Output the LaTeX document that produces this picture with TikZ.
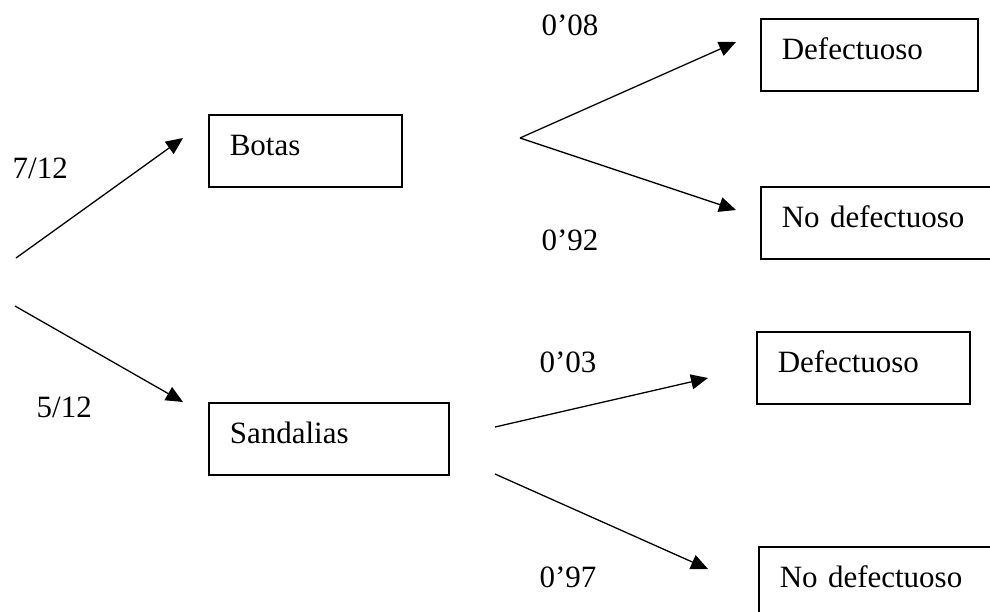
\documentclass[tikz,border=0pt]{standalone}
\usepackage{fontspec}
\setmainfont{Liberation Serif}
\usetikzlibrary{arrows.meta}
\tikzset{
  caja/.style={draw,thick,rectangle,anchor=north west,inner xsep=10.5pt,inner ysep=0pt,
    text height=20.5pt,text depth=15.5pt,align=left},
  prob/.style={anchor=base west,inner sep=0pt},
}

\begin{document}
\begin{tikzpicture}[x=0.5pt,y=-0.5pt,line width=0.65pt,>={Triangle[length=8.5pt,width=7.5pt]},
  font=\fontsize{15.5}{18}\selectfont]
\useasboundingbox (0,0) rectangle (990,611);
\clip (0,0) rectangle (990,611);
% primer nivel
\node[caja,text width=75.5pt] (botas) at (208,114) {Botas};
\node[caja,text width=99pt] (sand) at (208,402) {Sandalias};
% segundo nivel
\node[caja,text width=87.5pt] (bdef) at (760,18) {Defectuoso};
\node[caja,text width=99pt] (bnodef) at (760,186) {No defectuoso};
\node[caja,text width=85.5pt] (sdef) at (756,331) {Defectuoso};
\node[caja,text width=99pt] (snodef) at (758,546) {No defectuoso};
% extremos de las flechas
\coordinate (r1) at (16,258);
\coordinate (r2) at (15,306);
\coordinate (t1) at (183,138);
\coordinate (t2) at (183,402);
\coordinate (b0) at (520,138);
\coordinate (b1) at (736,42);
\coordinate (b2) at (736,210);
\coordinate (s1) at (495,427);
\coordinate (s2) at (495,474);
\coordinate (s3) at (708,378);
\coordinate (s4) at (708,569);
\draw[->] (r1) -- (t1);
\draw[->] (r2) -- (t2);
\draw[->] (b0) -- (b1);
\draw[->] (b0) -- (b2);
\draw[->] (s1) -- (s3);
\draw[->] (s2) -- (s4);
\node[prob] (p1) at (12,178) {7/12};
\node[prob] (p2) at (36,417) {5/12};
\node[prob] (p3) at (541,35) {0’08};
\node[prob] (p4) at (541,250) {0’92};
\node[prob] (p5) at (539,372) {0’03};
\node[prob] (p6) at (539,587) {0’97};
\end{tikzpicture}
\end{document}
